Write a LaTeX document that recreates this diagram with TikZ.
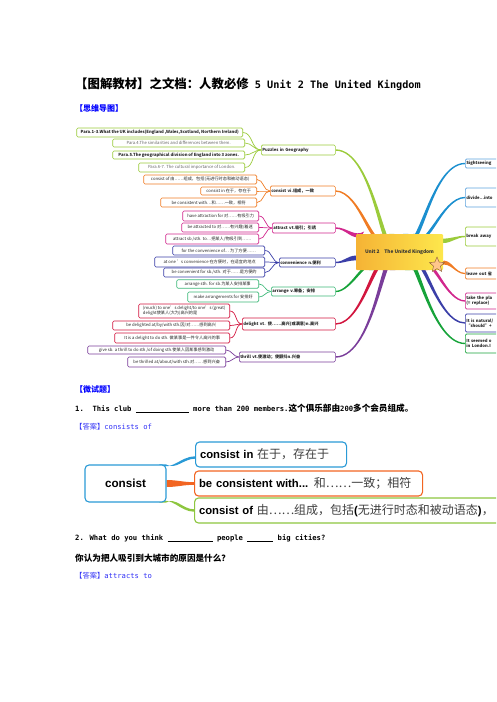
\documentclass[tikz,border=0pt]{standalone}
\usepackage{fontspec}
\setmainfont{Noto Sans CJK SC}
\newfontfamily\monof{DejaVu Sans Mono}
\newfontfamily\arialf{Liberation Sans}
\usetikzlibrary{calc,shapes.geometric}
\pgfdeclarelayer{bg}
\pgfsetlayers{bg,main}

\definecolor{cPuz}{HTML}{9BCB3B}
\definecolor{cCon}{HTML}{F07C24}
\definecolor{cAtt}{HTML}{D1278D}
\definecolor{cCnv}{HTML}{3B3FA8}
\definecolor{cArr}{HTML}{3CB878}
\definecolor{cArrB}{HTML}{17A33A}
\definecolor{cDel}{HTML}{D2163F}
\definecolor{cThr}{HTML}{7A3D9A}
\definecolor{cSky}{HTML}{1B8FCF}
\definecolor{cSkyBox}{HTML}{5DA3DD}
\definecolor{cOrg}{HTML}{F5B335}
\definecolor{cYel}{HTML}{FDE74C}
\definecolor{qblue}{HTML}{3333F5}
\definecolor{hblue}{HTML}{0000FF}
\definecolor{bBlue}{HTML}{2A9AD6}
\definecolor{bOrg}{HTML}{F26522}
\definecolor{bGrn}{HTML}{8DC63F}

\newcommand\mmfont{\fontsize{4.2}{4.9}\selectfont}
\newcommand\mb{\monof\bfseries\fontsize{7.2}{9}\selectfont}
\newcommand\zb{\normalfont\bfseries\fontsize{8.6}{10}\selectfont}
\newcommand\ZH[1]{{\normalfont\fontsize{12}{14}\selectfont\color{black!75}#1}}

\tikzset{
 mb/.style={draw=#1, rounded corners=1.3pt, line width=0.6pt, fill=white, inner xsep=1pt, inner ysep=0.5pt, align=left, font=\mmfont, text=black!85},
 ctrbox/.style={rounded corners=1pt, left color=cOrg, right color=cYel, minimum width=87, minimum height=36, font=\fontsize{4.8}{6}\selectfont\bfseries, text=black!80, inner sep=0},
 txt/.style={anchor=west, inner sep=0},
 bigbox/.style={draw=#1, line width=1.1pt, rounded corners=4pt, fill=white, anchor=west, align=left, inner xsep=4.5pt, font=\arialf\bfseries\fontsize{11.3}{13}\selectfont}
}

\newcommand\mm[7]{\node[mb=#2, anchor=east, minimum width=#4-#3, minimum height=#6] (#1) at (#4,#5) {#7};}
\newcommand\mc[7]{\pgfmathsetmacro\mmtw{#4-#3-2}\node[mb=#2, font=\mmfont\bfseries, anchor=west, minimum height=#6, text width=\mmtw pt] (#1) at (#3,#5) {#7};}
\newcommand\lnk[3]{\draw[#1, line width=0.7pt] (#2.east) to[out=0,in=180] (#3.west);}
\newcommand\branch[7]{\fill[#1] ($(#2)+(0,-#7)$) to[out=#4,in=#5] ($(#3)+(#6)$) -- ($(#3)-(#6)$) to[out=#5,in=#4] ($(#2)+(0,#7)$) -- cycle;}

\begin{document}
\begin{tikzpicture}[x=1pt,y=-1pt]
\useasboundingbox (0,0) rectangle (496,702);
\clip (0,0) rectangle (496,702);

% ---------- headings ----------
\node[txt] (title) at (75,84) {{\normalfont\bfseries\fontsize{12.4}{14}\selectfont 【图解教材】之文档：人教必修}{\monof\bfseries\fontsize{10.2}{12}\selectfont\ 5 Unit 2 The United Kingdom}};
\node[txt, text=hblue, font=\bfseries\fontsize{8}{10}\selectfont] (h1) at (75,108) {【思维导图】};

% ---------- mind map 1 ----------
\node[ctrbox] (ctr) at (399.5,252) {Unit 2\quad The United Kingdom};
\node[star, star points=5, star point ratio=2.2, minimum size=16pt, inner sep=0, fill=orange!45, draw=brown!70!black, line width=0.4pt] (st) at (437,265) {};

\mm{p1}{cPuz}{77}{243}{132.5}{9}{\bfseries Para.1-3.What the UK includes(England ,Wales,Scotland, Northern Ireland)}
\mm{p2}{cPuz}{113}{245}{143}{8}{\color{black!60}Para.4.The similarities and differences between them.}
\mm{p3}{cPuz}{113}{245}{155}{8}{\bfseries Para.5.The geographical division of England into 3 zones.}
\mm{p4}{cPuz}{139}{245}{167.5}{9}{\color{black!60}Para.6-7. The cultural importance of London.}
\mc{puz}{cPuz}{261}{335}{150}{10}{Puzzles in Geography}

\mm{c1}{cCon}{144}{257}{179.5}{9}{consist of 由……组成，包括(无进行时态和被动语态)}
\mm{c2}{cCon}{201}{257}{191}{8}{consist in 在于，存在于}
\mm{c3}{cCon}{161}{257}{202.5}{9}{be consistent with…和……一致，相符}
\mc{con}{cCon}{270}{335}{191}{10}{consist vi.组成，一致}

\mm{a1}{cAtt}{183}{259}{216}{10}{have attraction for 对……有吸引力}
\mm{a2}{cAtt}{182}{259}{227.5}{9}{be attracted to 对……有兴趣/着迷}
\mm{a3}{cAtt}{166}{259}{239}{10}{attract sb./sth. to…把某人/物吸引到……}
\mc{att}{cAtt}{272}{335}{228}{10}{attract vt.吸引；引诱}

\mm{v1}{cCnv}{173}{265}{250.5}{9}{for the convenience of… 为了方便……}
\mm{v2}{cCnv}{155}{265}{262}{10}{at one 's convenience 在方便时，在适宜的地点}
\mm{v3}{cCnv}{164}{265}{272.5}{9}{be convenient for sb./sth. 对于……是方便的}
\mc{cnv}{cCnv}{279}{335}{262.5}{9}{convenience n.便利}

\mm{r1}{cArr}{177}{259}{284}{8.5}{arrange sth. for sb.为某人安排某事}
\mm{r2}{cArr}{188}{259}{297}{10}{make arrangements for 安排好}
\mc{arr}{cArr}{271}{335}{291.5}{9}{arrange v.筹备；安排}

\mm{d1}{cDel}{139}{230}{311}{14}{(much) to one's delight/to one's (great)\\delight使某人(大为)高兴的是}
\mm{d2}{cDel}{113}{230}{325.5}{9}{be delighted at/by/with sth.因/对……感到高兴}
\mm{d3}{cDel}{115}{230}{338}{10}{It is a delight to do sth. 做某事是一件令人高兴的事}
\mc{del}{cDel}{242}{335}{324}{12}{delight vt. 使……高兴(或满意)n.高兴}

\mm{t1}{cThr}{88}{226}{350}{8}{give sb. a thrill to do sth./of doing sth.使某人因某事感到激动}
\mm{t2}{cThr}{128}{226}{362}{10}{be thrilled at/about/with sth.对……感到兴奋}
\mc{thr}{cThr}{239}{335}{357}{10}{thrill vt.使激动；使颤抖n.兴奋}

\mc{s1}{cSkyBox}{465}{540}{163.5}{9}{Sightseeing}
\mc{s2}{cSkyBox}{465}{540}{197.5}{19}{divide...into}
\mc{s3}{cPuz}{465}{540}{236.5}{19}{break away}
\mc{s4}{cCon}{465}{540}{273.5}{11}{leave out 省}
\mc{s5}{cAtt}{465}{540}{301}{16}{take the pla\\(= replace)}
\mc{s6}{cCnv}{465}{540}{323}{18}{It is natural/\\“should”+}
\mc{s7}{cArrB}{465}{540}{343.5}{19}{It seemed o\\in London.I}

\coordinate (tP) at ($(ctr.north west)+(36,0)$);
\coordinate (tC) at ($(ctr.north west)+(27,0)$);
\coordinate (tA) at ($(ctr.north west)+(7,0)$);
\coordinate (wV) at ($(ctr.west)+(0,6)$);
\coordinate (bR) at ($(ctr.south west)+(16,0)$);
\coordinate (bD) at ($(ctr.south west)+(29,0)$);
\coordinate (bT) at ($(ctr.south west)+(37,0)$);
\coordinate (tS) at ($(ctr.north west)+(50,0)$);
\coordinate (tD) at ($(ctr.north west)+(60,0)$);
\coordinate (eB) at ($(ctr.north east)+(0,7)$);
\coordinate (eL) at ($(ctr.south east)+(-2,-7)$);
\coordinate (bK) at ($(ctr.south west)+(69,0)$);
\coordinate (bN) at ($(ctr.south west)+(59,0)$);
\coordinate (bG) at ($(ctr.south west)+(52,0)$);

\begin{pgfonlayer}{bg}
\branch{cPuz}{puz.east}{tP}{0}{260}{2.6,0}{0.7}
\branch{cCon}{con.east}{tC}{0}{250}{2.6,0}{0.7}
\branch{cAtt}{att.east}{tA}{0}{210}{1.3,-2.2}{0.7}
\branch{cCnv}{cnv.east}{wV}{0}{180}{0,-2.4}{0.7}
\branch{cArrB}{arr.east}{bR}{0}{110}{-2.6,0}{0.7}
\branch{cDel}{del.east}{bD}{0}{105}{-2.6,0}{0.7}
\branch{cThr}{thr.east}{bT}{0}{100}{-2.6,0}{0.7}
\branch{cSky}{s1.west}{tS}{180}{290}{-2.6,0}{0.7}
\branch{cSky}{s2.west}{tD}{180}{295}{-2.6,0}{0.7}
\branch{cPuz}{s3.west}{eB}{180}{0}{0,-2.2}{0.7}
\branch{cCon}{s4.west}{eL}{180}{20}{0,-2}{0.6}
\branch{cAtt}{s5.west}{bK}{180}{70}{2.6,0}{0.7}
\branch{cCnv}{s6.west}{bN}{180}{78}{2.6,0}{0.7}
\branch{cArrB}{s7.west}{bG}{180}{82}{2.6,0}{0.7}
\end{pgfonlayer}

\lnk{cPuz}{p1}{puz}\lnk{cPuz}{p2}{puz}\lnk{cPuz}{p3}{puz}\lnk{cPuz}{p4}{puz}
\lnk{cCon}{c1}{con}\lnk{cCon}{c2}{con}\lnk{cCon}{c3}{con}
\lnk{cAtt}{a1}{att}\lnk{cAtt}{a2}{att}\lnk{cAtt}{a3}{att}
\lnk{cCnv}{v1}{cnv}\lnk{cCnv}{v2}{cnv}\lnk{cCnv}{v3}{cnv}
\lnk{cArr}{r1}{arr}\lnk{cArr}{r2}{arr}
\lnk{cDel}{d1}{del}\lnk{cDel}{d2}{del}\lnk{cDel}{d3}{del}
\lnk{cThr}{t1}{thr}\lnk{cThr}{t2}{thr}

% ---------- quiz ----------
\node[txt, text=hblue, font=\bfseries\fontsize{8}{10}\selectfont] (h2) at (75,389) {【微试题】};
\node[txt] (q1) at (75,408) {\mb 1.~~This club \rule[-1.2pt]{53pt}{0.6pt} more than 200 members.{\zb 这个俱乐部由}200{\zb 多个会员组成。}};
\node[txt, text=qblue] (a1t) at (75,427) {{\normalfont\fontsize{7.3}{9}\selectfont 【答案】}{\monof\fontsize{7.2}{9}\selectfont consists of}};

% ---------- mind map 2 ----------
\node[draw=bBlue, line width=1.1pt, rounded corners=4pt, fill=white, minimum width=81, minimum height=37, font=\arialf\bfseries\fontsize{11.7}{13}\selectfont] (cs) at (125.5,483.5) {consist};
\node[bigbox=bBlue, minimum height=25, text width=142pt] (ci) at (195,454.5) {consist in \ZH{在于，存在于}};
\node[bigbox=bOrg, minimum height=25, text width=219pt] (cb) at (194,483.5) {be consistent with... \ZH{和……一致；相符}};
\node[bigbox=bGrn, minimum height=25, text width=330pt] (co) at (194,510.5) {consist of \ZH{由……组成，包括}(\ZH{无进行时态和被动语态})\ZH{，}};
\coordinate (ciw) at ($(ci.west)+(0,3)$);
\coordinate (cq1) at ($(cs.north east)+(-4,0)$);
\coordinate (cq3) at ($(cs.south east)+(-4,0)$);
\begin{pgfonlayer}{bg}
\branch{bBlue}{ciw}{cq1}{180}{330}{-3.5,0}{1.2}
\branch{bOrg}{cb.west}{cs.east}{180}{0}{0,-3.5}{1.3}
\branch{bGrn}{co.west}{cq3}{180}{30}{3.5,0}{1.2}
\end{pgfonlayer}

% ---------- quiz 2 ----------
\node[txt] (q2) at (75,538) {\mb 2. What do you think \rule[-1.2pt]{45pt}{0.6pt} people \rule[-1.2pt]{26pt}{0.6pt} big cities?};
\node[txt, font=\zb] (q2c) at (75,558) {你认为把人吸引到大城市的原因是什么？};
\node[txt, text=qblue] (a2t) at (75,576) {{\normalfont\fontsize{7.3}{9}\selectfont 【答案】}{\monof\fontsize{7.2}{9}\selectfont attracts to}};
\end{tikzpicture}
\end{document}
